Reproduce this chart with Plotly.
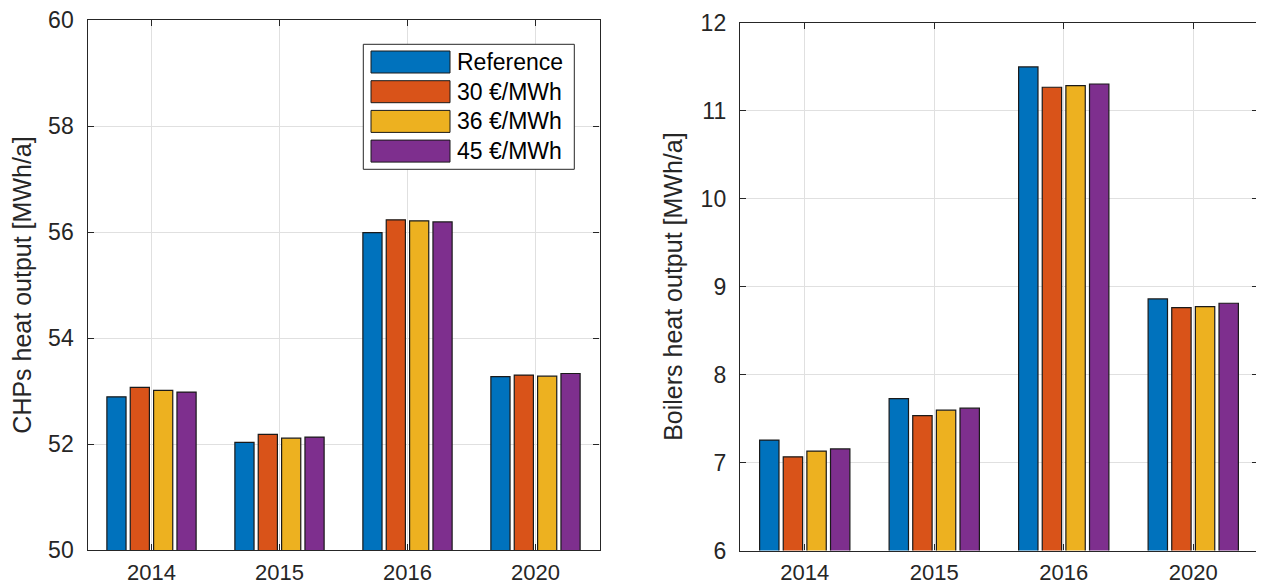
import plotly.graph_objects as go

years = ["2014", "2015", "2016", "2020"]
series_names = ["Reference", "30 €/MWh", "36 €/MWh", "45 €/MWh"]
colors = ["#0072BD", "#D95319", "#EDB120", "#7E2F8E"]

chp_reference = [52.89, 52.03, 55.99, 53.27]
chp_30 = [53.07, 52.18, 56.23, 53.30]
chp_36 = [53.01, 52.11, 56.21, 53.28]
chp_45 = [52.98, 52.13, 56.19, 53.33]

boiler_reference = [7.255, 7.727, 11.497, 8.860]
boiler_30 = [7.065, 7.534, 11.266, 8.761]
boiler_36 = [7.130, 7.595, 11.284, 8.773]
boiler_45 = [7.155, 7.618, 11.303, 8.811]

chp_series = [chp_reference, chp_30, chp_36, chp_45]
boiler_series = [boiler_reference, boiler_30, boiler_36, boiler_45]

# page places the figure at an 8 px body offset; size the figure to the visible area
OFF = 8
W, H = 1256, 579
FONT = "Liberation Sans, Arial, sans-serif"
AX = "#262626"

fig = go.Figure()
for name, col, vals in zip(series_names, colors, chp_series):
    fig.add_trace(go.Bar(x=years, y=vals, name=name,
                         marker=dict(color=col, line=dict(color="#1a1a1a", width=1.2)),
                         xaxis="x", yaxis="y", showlegend=False))
for name, col, vals in zip(series_names, colors, boiler_series):
    fig.add_trace(go.Bar(x=years, y=vals, name=name,
                         marker=dict(color=col, line=dict(color="#1a1a1a", width=1.2)),
                         xaxis="x2", yaxis="y2", showlegend=False))


def px_x(v):
    return (v - OFF) / W


def px_y(v):
    return 1 - (v - OFF) / H


common_x = dict(type="category", categoryorder="array", categoryarray=years, range=[-0.5, 3.5],
                showline=True, linecolor=AX, linewidth=1.4, mirror="ticks", ticks="inside", ticklen=6,
                tickcolor=AX, showgrid=True, gridcolor="#e0e0e0", gridwidth=1, automargin=False,
                tickfont=dict(family=FONT, size=22, color=AX), ticklabelstandoff=2,
                ticklabeloverflow="allow", zeroline=False)
common_y = dict(showline=True, linecolor=AX, linewidth=1.4, mirror="ticks", ticks="inside", ticklen=6,
                tickcolor=AX, showgrid=True, gridcolor="#e0e0e0", gridwidth=1, automargin=False,
                tickfont=dict(family=FONT, size=23, color=AX), ticklabelstandoff=8,
                ticklabeloverflow="allow", zeroline=False)

fig.update_layout(
    width=W, height=H, margin=dict(l=0, r=0, t=0, b=0, autoexpand=False),
    paper_bgcolor="white", plot_bgcolor="white",
    barmode="group", bargap=0.27, bargroupgap=0.18,
    xaxis=dict(domain=[px_x(87.5), px_x(599.5)], anchor="y", **common_x),
    yaxis=dict(domain=[px_y(550), px_y(20)], anchor="x", range=[50, 60], dtick=2,
               tickvals=[50, 52, 54, 56, 58, 60],
               title=dict(text="CHPs heat output [MWh/a]", font=dict(family=FONT, size=25, color=AX),
                          standoff=12),
               **common_y),
    xaxis2=dict(domain=[px_x(740), px_x(1258)], anchor="y2", **common_x),
    yaxis2=dict(domain=[px_y(550.5), px_y(22.7)], anchor="x2", range=[6, 12], dtick=1,
                title=dict(text="Boilers heat output [MWh/a]", font=dict(family=FONT, size=25, color=AX),
                           standoff=10),
                **common_y),
    showlegend=False,
)

# MATLAB-style legend box in the left panel
shapes = [dict(type="rect", xref="paper", yref="paper", x0=px_x(363.3), x1=px_x(574.3),
               y0=px_y(169.3), y1=px_y(44.3), line=dict(color=AX, width=1), fillcolor="white",
               layer="above")]
annotations = []
for i, (name, col) in enumerate(zip(series_names, colors)):
    top = 51 + i * 29.7
    shapes.append(dict(type="rect", xref="paper", yref="paper", x0=px_x(371), x1=px_x(450),
                       y0=px_y(top + 22), y1=px_y(top), line=dict(color="#1a1a1a", width=1),
                       fillcolor=col, layer="above"))
    annotations.append(dict(xref="paper", yref="paper", x=px_x(455), y=px_y(top + 11), text=name,
                            showarrow=False, xanchor="left", yanchor="middle",
                            font=dict(family=FONT, size=23, color="#000000")))
fig.update_layout(shapes=shapes, annotations=annotations)

fig.write_html("out.html")
